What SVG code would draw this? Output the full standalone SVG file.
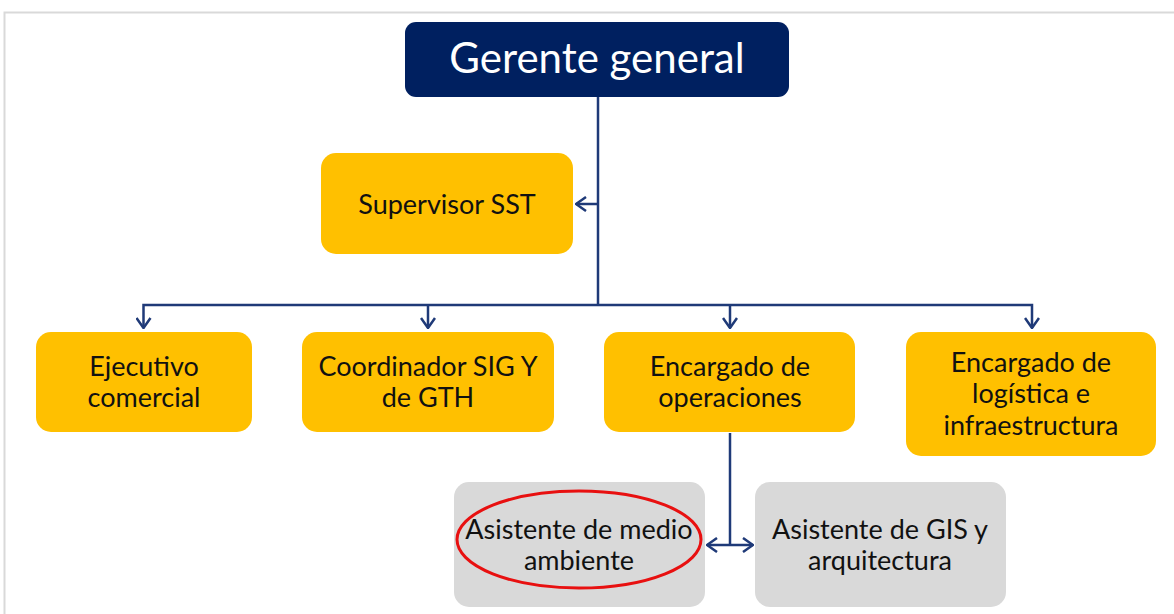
<svg xmlns="http://www.w3.org/2000/svg" width="1174" height="614" viewBox="0 0 1174 614">
<style>
.y{fill:#FFC000;}
.g{fill:#D9D9D9;}
.t{font-family:Lato,"Open Sans","Liberation Sans",sans-serif;font-size:27px;fill:#111;text-anchor:middle;dominant-baseline:central;}
.c{fill:none;stroke:#1F3A78;stroke-width:2.5;}
</style>
<defs>
<marker id="a" viewBox="0 0 12 16" refX="11" refY="8" markerWidth="12" markerHeight="16" markerUnits="userSpaceOnUse" orient="auto-start-reverse">
<path d="M1,1 L11,8 L1,15" fill="none" stroke="#1F3A78" stroke-width="2.5"/>
</marker>
</defs>
<rect x="0" y="0" width="1174" height="614" fill="#fff"/>
<path d="M4.5,614 V12.5 H1174" fill="none" stroke="#D9D9D9" stroke-width="2"/>
<g id="connectors">
<path class="c" d="M598,97 V305"/>
<path class="c" d="M598,204 H576" marker-end="url(#a)"/>
<path class="c" d="M143.5,328 V305 H1032 V328" marker-start="url(#a)" marker-end="url(#a)"/>
<path class="c" d="M428,305 V328" marker-end="url(#a)"/>
<path class="c" d="M730,305 V328" marker-end="url(#a)"/>
<path class="c" d="M730,433 V545"/>
<path class="c" d="M707,545 H753" marker-start="url(#a)" marker-end="url(#a)"/>
</g>
<g id="gerente">
<rect x="405" y="22" width="384" height="75" rx="11" fill="#002060"/>
<text x="597" y="57" class="t" style="font-size:42px;fill:#fff">Gerente general</text>
</g>
<g id="supervisor">
<rect class="y" x="321" y="153" width="252" height="101" rx="15"/>
<text x="447" y="203" class="t">Supervisor SST</text>
</g>
<g id="ejecutivo">
<rect class="y" x="36" y="332" width="216" height="100" rx="15"/>
<text x="144" y="365" class="t">Ejecutivo</text>
<text x="144" y="396" class="t">comercial</text>
</g>
<g id="coordinador">
<rect class="y" x="302" y="332" width="252" height="100" rx="15"/>
<text x="428" y="365" class="t">Coordinador SIG Y</text>
<text x="428" y="396" class="t">de GTH</text>
</g>
<g id="operaciones">
<rect class="y" x="604" y="332" width="251" height="100" rx="15"/>
<text x="730" y="365" class="t">Encargado de</text>
<text x="730" y="396" class="t">operaciones</text>
</g>
<g id="logistica">
<rect class="y" x="906" y="332" width="250" height="124" rx="15"/>
<text x="1031" y="361" class="t">Encargado de</text>
<text x="1031" y="392" class="t">logística e</text>
<text x="1031" y="424" class="t">infraestructura</text>
</g>
<g id="medio-ambiente">
<rect class="g" x="454" y="482" width="251" height="125" rx="15"/>
<text x="579" y="528" class="t">Asistente de medio</text>
<text x="579" y="559" class="t">ambiente</text>
<ellipse cx="579" cy="539.5" rx="122" ry="48.5" fill="none" stroke="#E81010" stroke-width="3"/>
</g>
<g id="gis">
<rect class="g" x="755" y="482" width="251" height="125" rx="15"/>
<text x="880" y="528" class="t">Asistente de GIS y</text>
<text x="880" y="559" class="t">arquitectura</text>
</g>
</svg>
